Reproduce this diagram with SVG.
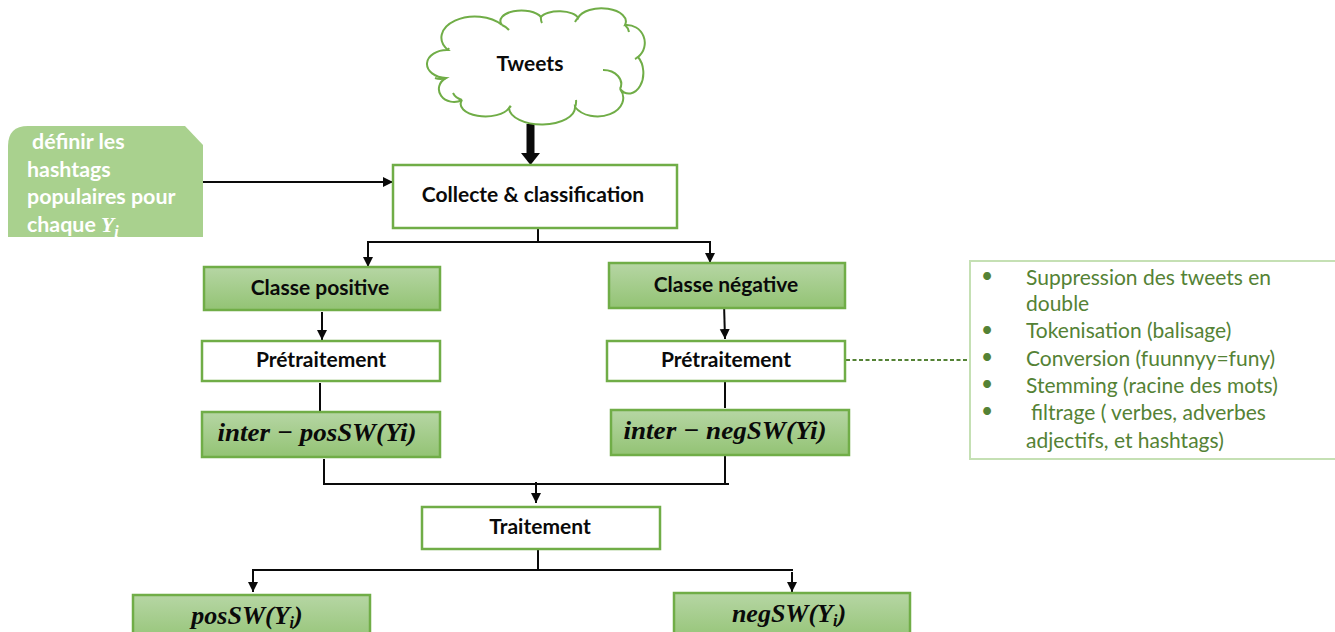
<svg xmlns="http://www.w3.org/2000/svg" width="1335" height="632" viewBox="0 0 1335 632">
<style>
.t{font-family:"Lato","Carlito","Liberation Sans",sans-serif;font-weight:700;font-size:21px;fill:#0a0a0a;text-anchor:middle}
.m{font-family:"Liberation Serif","Times New Roman",serif;font-weight:700;font-style:italic;font-size:26px;fill:#0a0a0a;text-anchor:middle}
.w{font-family:"Lato","Carlito","Liberation Sans",sans-serif;font-weight:700;font-size:21.4px;fill:#fff}
.l{font-family:"Lato","Carlito","Liberation Sans",sans-serif;font-size:21px;fill:#548235}
.b{fill:#fff;stroke:#70ad47;stroke-width:2.5}
.g{fill:url(#gr);stroke:#70ad47;stroke-width:2.5}
.c{fill:none;stroke:#0a0a0a;stroke-width:2}
.s{font-size:16px}
</style>
<defs>
<linearGradient id="gr" x1="0" y1="0" x2="0" y2="1"><stop offset="0" stop-color="#b6d6a4"/><stop offset="1" stop-color="#93c374"/></linearGradient>
<marker id="a" markerUnits="userSpaceOnUse" markerWidth="12" markerHeight="12" refX="10" refY="5" orient="auto"><path d="M0 0L10 5L0 10Z" fill="#0a0a0a"/></marker>
</defs>
<g id="connectors">
<path d="M530.5 124V155" fill="none" stroke="#0a0a0a" stroke-width="8"/>
<path d="M521 153H540L530.5 165Z" fill="#0a0a0a"/>
<path class="c" d="M203 182H393" marker-end="url(#a)"/>
<path class="c" d="M538 229V242"/>
<path class="c" d="M368 267V242H710V263" marker-end="url(#a)"/>
<path class="c" d="M368 243V267" marker-end="url(#a)"/>
<path class="c" d="M322 312V340" marker-end="url(#a)"/>
<path class="c" d="M724 303L725 339" marker-end="url(#a)"/>
<path class="c" d="M320 383V411"/>
<path class="c" d="M725 381V408"/>
<path class="c" d="M324 459V484H729"/>
<path class="c" d="M725 456V483"/>
<path class="c" d="M536 482V503" marker-end="url(#a)"/>
<path class="c" d="M538 549V570"/>
<path class="c" d="M253 592V570H793"/>
<path class="c" d="M253 571V592" marker-end="url(#a)"/>
<path class="c" d="M792 572V592" marker-end="url(#a)"/>
<path d="M846 360H970" fill="none" stroke="#548235" stroke-width="2" stroke-dasharray="4 2.5"/>
</g>
<g id="tweets">
<path d="M448 50A32 20 0 0 1 502 25A20 10 0 0 1 541 17A19 8 0 0 1 578 18A24 13 0 0 1 625 25A18 18 0 0 1 638 57A14 20 0 0 1 620 89A25 18 0 0 1 575 107A33 17 0 0 1 509 108A24 12 0 0 1 462 100A14 12 0 0 1 446 78A20 14 0 0 1 448 50Z" fill="#fff" stroke="#70ad47" stroke-width="2"/>
<path d="M603 70A18 14 0 0 1 620 89M575 107A20 16 0 0 0 576 100M509 108A20 14 0 0 0 511 106M462 100A16 12 0 0 1 453 93M446 78A14 12 0 0 1 435 78M448 50A20 14 0 0 1 449 48M502 25A20 14 0 0 1 509 30M541 17A20 14 0 0 0 542 23M578 18A20 14 0 0 0 575 22M625 25A20 14 0 0 1 629 32M638 57A20 14 0 0 1 635 59" fill="none" stroke="#70ad47" stroke-width="2"/>
<text class="t" x="530" y="71">Tweets</text>
</g>
<g id="hashtags">
<path d="M8 237V146Q8 126 28 126H185L203 145V237Z" fill="#a9d18e"/>
<text class="w" x="32" y="149">définir les</text>
<text class="w" x="27" y="177">hashtags</text>
<text class="w" x="27" y="204">populaires pour</text>
<text class="w" x="27" y="232">chaque <tspan font-family="Liberation Serif" font-style="italic">Y</tspan><tspan font-family="Liberation Serif" font-style="italic" class="s" dy="5">i</tspan></text>
</g>
<g id="collecte"><rect class="b" x="393" y="165" width="284" height="63"/><text class="t" x="533" y="202">Collecte &amp; classification</text></g>
<g id="classe-positive"><rect class="g" x="204" y="267" width="236" height="43"/><text class="t" x="320" y="295">Classe positive</text></g>
<g id="classe-negative"><rect class="g" x="609" y="263" width="236" height="45"/><text class="t" x="726" y="292">Classe négative</text></g>
<g id="pretraitement-pos"><rect class="b" x="202" y="341" width="238" height="40"/><text class="t" x="321" y="367">Prétraitement</text></g>
<g id="pretraitement-neg"><rect class="b" x="607" y="341" width="238" height="40"/><text class="t" x="726" y="367">Prétraitement</text></g>
<g id="inter-pos"><rect class="g" x="202" y="412" width="238" height="45"/><text class="m" x="317" y="441" textLength="199" lengthAdjust="spacingAndGlyphs">inter − posSW(Yi)</text></g>
<g id="inter-neg"><rect class="g" x="611" y="410" width="238" height="45"/><text class="m" x="725" y="439" textLength="203" lengthAdjust="spacingAndGlyphs">inter − negSW(Yi)</text></g>
<g id="traitement"><rect class="b" x="422" y="507" width="238" height="42"/><text class="t" x="540" y="534">Traitement</text></g>
<g id="pos-sw"><rect class="g" x="133" y="595" width="237" height="50"/><text class="m" x="247" y="624">posSW(Y<tspan class="s" dy="4">i</tspan><tspan dy="-4">)</tspan></text></g>
<g id="neg-sw"><rect class="g" x="674" y="593" width="236" height="50"/><text class="m" x="789" y="622">negSW(Y<tspan class="s" dy="4">i</tspan><tspan dy="-4">)</tspan></text></g>
<g id="details">
<rect x="970" y="261" width="367" height="198" fill="#fff" stroke="#c5e0b4" stroke-width="2"/>
<g class="l">
<text x="981" y="283">•</text><text x="1026" y="285">Suppression des tweets en</text>
<text x="1026" y="311">double</text>
<text x="981" y="337">•</text><text x="1026" y="338">Tokenisation (balisage)</text>
<text x="981" y="364">•</text><text x="1026" y="366">Conversion (fuunnyy=funy)</text>
<text x="981" y="391">•</text><text x="1026" y="393">Stemming (racine des mots)</text>
<text x="981" y="418">•</text><text x="1031" y="420">filtrage ( verbes, adverbes</text>
<text x="1026" y="448">adjectifs, et hashtags)</text>
</g>
</g>
</svg>
